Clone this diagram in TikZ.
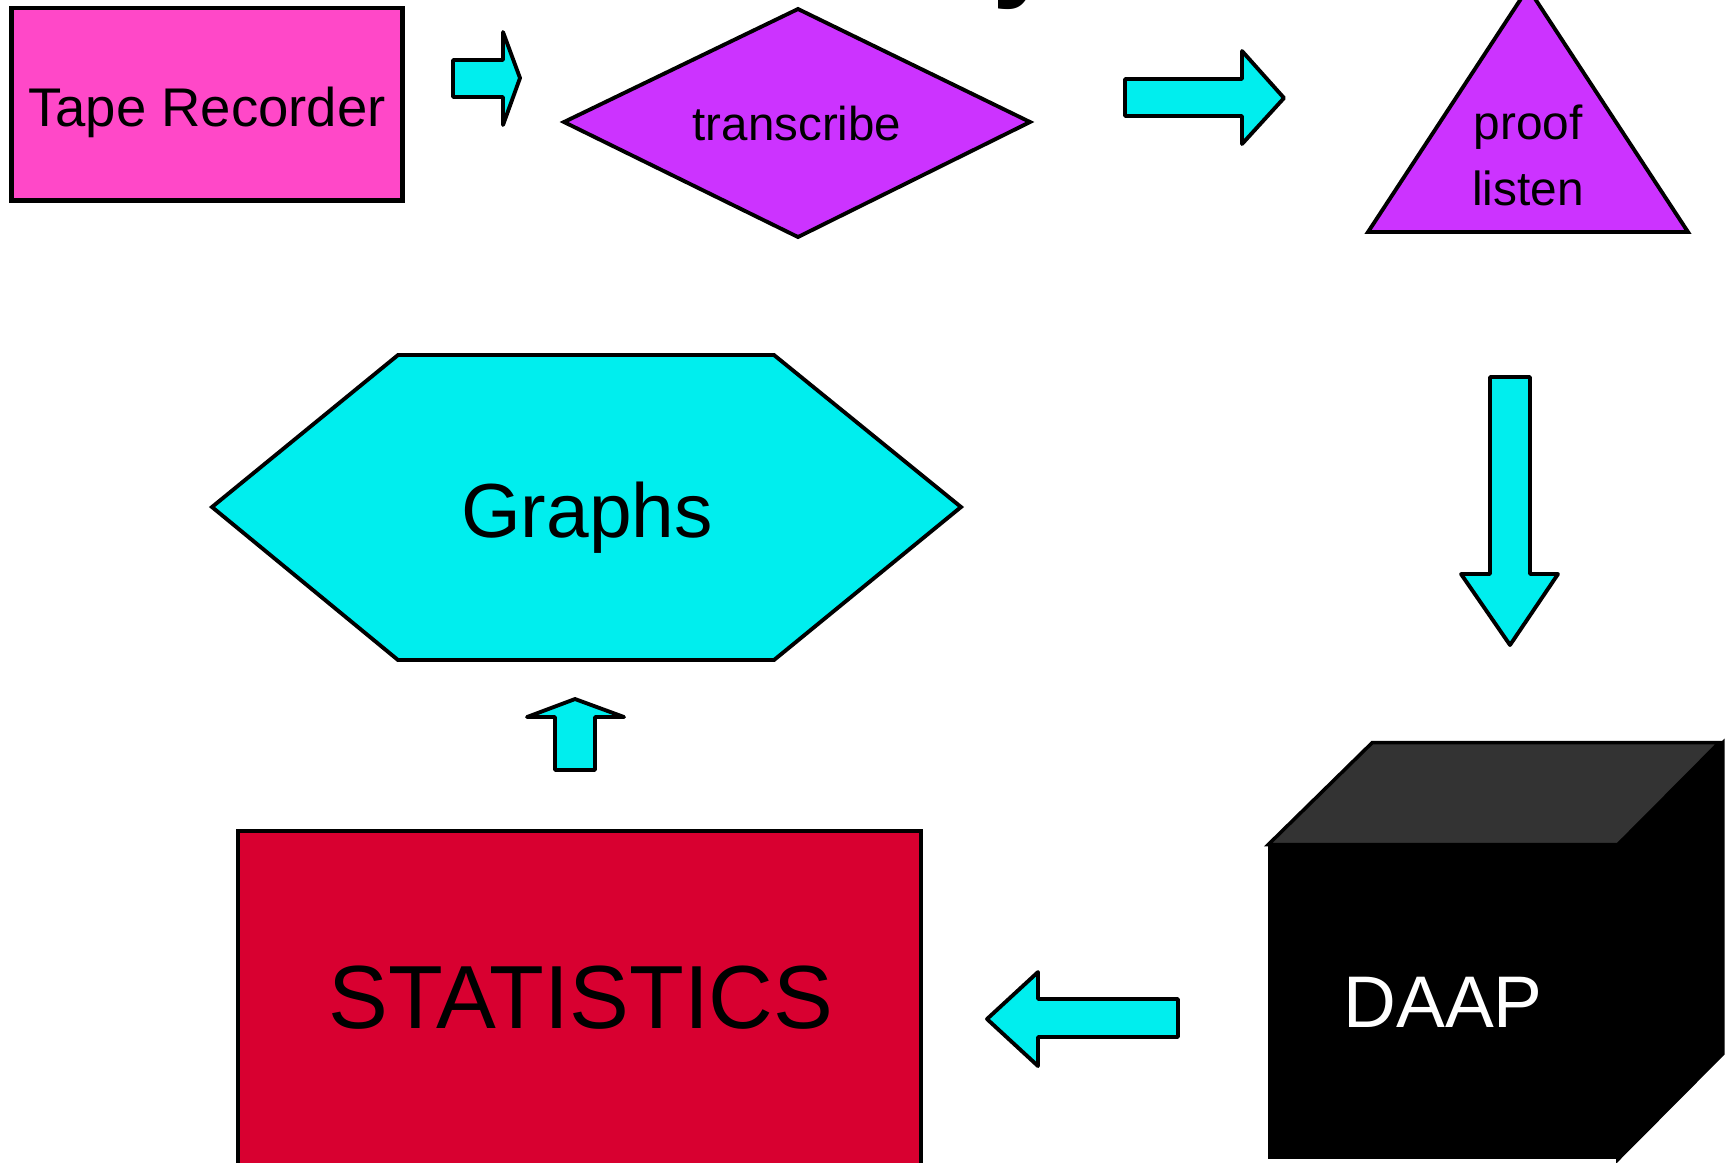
\documentclass[tikz,border=0pt]{standalone}
\usepackage{fontspec}
\setmainfont{Liberation Sans}
\definecolor{tapepink}{HTML}{FF48C8}
\definecolor{stepviolet}{HTML}{CC33FF}
\definecolor{arrowcyan}{HTML}{00EEEE}
\definecolor{statred}{HTML}{D80030}
\definecolor{cubetop}{HTML}{333333}
\begin{document}
\begin{tikzpicture}[x=0.01cm,y=-0.01cm,
  shapeline/.style={draw=black,line width=1.1pt},
  blockarrow/.style={draw=black,fill=arrowcyan,line width=1.1pt,line join=round},
  lbl/.style={inner sep=0pt,text=black}]
\clip (0,0) rectangle (1728,1162);
% cut-off title
\node[lbl,anchor=base west,font=\fontsize{33}{36}\bfseries\selectfont] (title) at (992,-15) {y};
% top row
\node[shapeline,line width=1.4pt,fill=tapepink,minimum width=3.91cm,minimum height=1.92cm] (tape) at (207,104) {};
\node[lbl,font=\fontsize{15.5}{18}\selectfont] (tapetxt) at (207,112) {Tape Recorder};
\draw[blockarrow] (453,60)--++(50,0)--(503,32)--(520,78)--(503,125)--++(0,-28)--(453,97)--cycle;
\draw[shapeline,fill=stepviolet] (564,122)--(798,9)--(1030,122)--(798,237)--cycle;
\node[lbl,font=\fontsize{13.5}{16}\selectfont] (transcribe) at (797,124) {transcribe};
\draw[blockarrow] (1125,79)--++(117,0)--(1242,51)--(1284,98)--(1242,144)--++(0,-28)--(1125,116)--cycle;
\draw[shapeline,fill=stepviolet] (1368,232)--(1528,-12)--(1688,232)--cycle;
\node[lbl,align=center,font=\fontsize{13.6}{18.8}\selectfont] (proof) at (1528,155) {proof\\listen};
% down the right side
\draw[blockarrow] (1490,377)--++(40,0)--++(0,197)--(1558,574)--(1510,645)--(1461,574)--++(29,0)--cycle;
% DAAP cube
\node[draw=black,line width=1pt,fill=black,minimum width=3.46cm,minimum height=3.11cm,
  text=white,font=\fontsize{20.8}{24}\selectfont] (daap) at (1443,1002) {DAAP};
\draw[line width=1pt,fill=cubetop] (daap.north west)--++(104,-102)--++(347,0)--(daap.north east)--cycle;
\draw[line width=1pt,fill=black] (daap.north east)--++(105,-102)--++(0,311)--(daap.south east)--cycle;
% back to the left
\draw[blockarrow] (1178,999)--(1038,999)--(1038,972)--(987,1019)--(1038,1066)--(1038,1037)--(1178,1037)--cycle;
\draw[shapeline,fill=statred] (238,831) rectangle (921,1200);
\node[lbl,font=\fontsize{25.5}{30}\selectfont] (stats) at (581,998) {STATISTICS};
\draw[blockarrow] (555,770)--(555,717)--(527,717)--(575,699)--(624,717)--(595,717)--(595,770)--cycle;
\draw[shapeline,fill=arrowcyan] (212,507)--(398,355)--(774,355)--(961,507)--(774,660)--(398,660)--cycle;
\node[lbl,font=\fontsize{21.8}{26}\selectfont] (graphs) at (587,518) {Graphs};
\end{tikzpicture}
\end{document}
